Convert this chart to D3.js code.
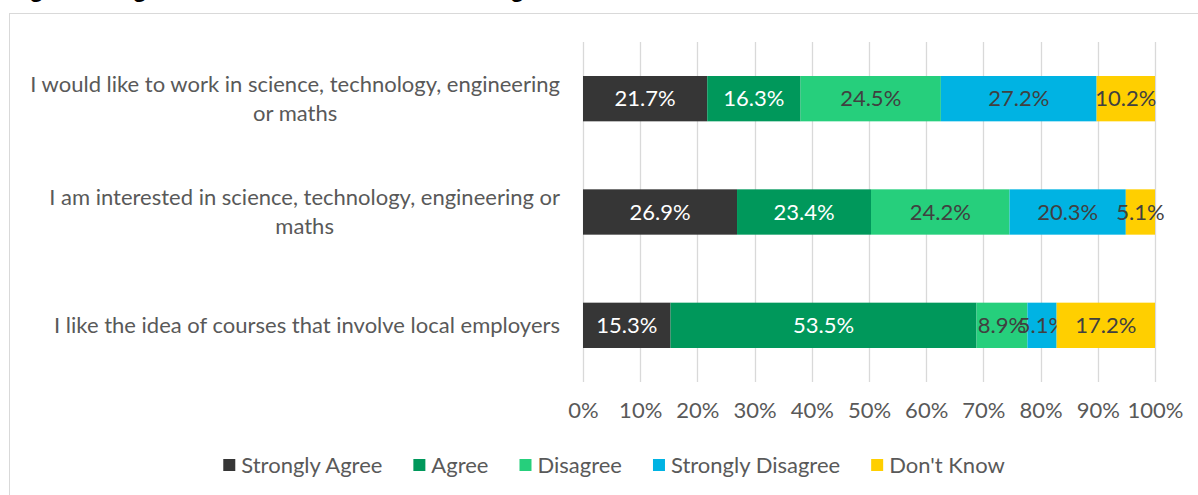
<!DOCTYPE html>
<html>
<head>
<meta charset="utf-8">
<script src="https://cdn.jsdelivr.net/npm/d3@7"></script>
<style>
  body { margin: 0; background: #fff; }
  svg { display: block; }
  svg text { font-family: Lato, "Open Sans", sans-serif; }
</style>
</head>
<body>
<div id="chart"></div>
<script>
// statements, top to bottom
const categories = [
  ["I would like to work in science, technology, engineering", "or maths"],
  ["I am interested in science, technology, engineering or", "maths"],
  ["I like the idea of courses that involve local employers"]
];
const seriesNames = ["Strongly Agree", "Agree", "Disagree", "Strongly Disagree", "Don't Know"];
const seriesColors = ["#363636", "#00985b", "#26cf7c", "#00b3e3", "#ffcf00"];
const labelColors = ["#ffffff", "#ffffff", "#404040", "#404040", "#404040"];

const stronglyAgree = [21.7, 26.9, 15.3];
const agree = [16.3, 23.4, 53.5];
const disagree = [24.5, 24.2, 8.9];
const stronglyDisagree = [27.2, 20.3, 5.1];
const dontKnow = [10.2, 5.1, 17.2];
const xTicks = [0, 0.1, 0.2, 0.3, 0.4, 0.5, 0.6, 0.7, 0.8, 0.9, 1];

const titleText = "Figure 4: Agreement with Statements relating to STEM courses";

const W = 1198, H = 495;
const FS = "22px";

const svg = d3.select("#chart").append("svg")
  .attr("width", W)
  .attr("height", H);

// title sits mostly above the crop, only the bottoms show
svg.append("text")
  .attr("x", 8)
  .attr("y", -3)
  .style("font-family", "'Liberation Sans', Arial, sans-serif")
  .style("font-weight", "bold")
  .style("font-size", "24px")
  .attr("fill", "#000")
  .text(titleText);

// chart area border
svg.append("rect")
  .attr("x", 9.5).attr("y", 13.5)
  .attr("width", 1400).attr("height", 600)
  .attr("fill", "#fff")
  .attr("stroke", "#d9d9d9");

const rows = categories.map((c, i) => ({
  key: i,
  "Strongly Agree": stronglyAgree[i],
  "Agree": agree[i],
  "Disagree": disagree[i],
  "Strongly Disagree": stronglyDisagree[i],
  "Don't Know": dontKnow[i]
}));

const stacked = d3.stack()
  .keys(seriesNames)
  .offset(d3.stackOffsetExpand)(rows);

const x = d3.scaleLinear().domain([0, 1]).range([583, 1155]);
const y = d3.scaleBand()
  .domain(rows.map(d => d.key))
  .range([42, 382])
  .paddingInner(0.6)
  .paddingOuter(0.3);

// gridlines
svg.append("g")
  .selectAll("line")
  .data(xTicks)
  .join("line")
  .attr("x1", d => Math.round(x(d)) + 0.5)
  .attr("x2", d => Math.round(x(d)) + 0.5)
  .attr("y1", 42)
  .attr("y2", 382)
  .attr("stroke", "#d9d9d9")
  .attr("stroke-width", 1.3);

// x axis labels
const xAxis = d3.axisBottom(x)
  .tickValues(xTicks)
  .tickFormat(d3.format(".0%"))
  .tickSize(0)
  .tickPadding(0);

const xAxisG = svg.append("g")
  .attr("transform", "translate(0,402)")
  .call(xAxis);
xAxisG.select(".domain").remove();
xAxisG.selectAll("text")
  .style("font-family", "Lato, sans-serif")
  .style("font-size", FS)
  .attr("fill", "#595959");

// bars
const layer = svg.append("g")
  .selectAll("g")
  .data(stacked)
  .join("g")
  .attr("fill", (d, i) => seriesColors[i]);

layer.selectAll("rect")
  .data(d => d)
  .join("rect")
  .attr("x", d => x(d[0]))
  .attr("y", d => y(d.data.key))
  .attr("width", d => x(d[1]) - x(d[0]))
  .attr("height", y.bandwidth());

// data labels
layer.each(function(s, i) {
  d3.select(this).selectAll("text")
    .data(s)
    .join("text")
    .attr("x", d => (x(d[0]) + x(d[1])) / 2)
    .attr("y", d => y(d.data.key) + y.bandwidth() / 2)
    .attr("dy", "0.35em")
    .attr("text-anchor", "middle")
    .style("font-size", FS)
    .attr("fill", labelColors[i])
    .text(d => d.data[s.key].toFixed(1) + "%");
});

// category labels, wrapped lines centred on the widest line
const catG = svg.append("g");
categories.forEach((lines, i) => {
  const g = catG.append("g");
  const cy = y(i) + y.bandwidth() / 2;
  const lh = 29;
  const texts = lines.map((t, j) => g.append("text")
    .attr("y", cy + (j - (lines.length - 1) / 2) * lh)
    .attr("dy", "0.35em")
    .attr("text-anchor", "middle")
    .style("font-size", FS)
    .attr("fill", "#595959")
    .text(t));
  const maxW = d3.max(texts, t => t.node().getComputedTextLength());
  texts.forEach(t => t.attr("x", 560 - maxW / 2));
});

// legend
const legend = svg.append("g");
let lx = 0;
seriesNames.forEach((name, i) => {
  const item = legend.append("g").attr("transform", `translate(${lx},0)`);
  item.append("rect")
    .attr("x", 0).attr("y", -6)
    .attr("width", 12).attr("height", 12)
    .attr("fill", seriesColors[i]);
  const t = item.append("text")
    .attr("x", 18)
    .attr("dy", "0.35em")
    .style("font-size", FS)
    .attr("fill", "#595959")
    .text(name);
  lx += 18 + t.node().getComputedTextLength() + 31;
});
const legendW = lx - 31;
legend.attr("transform", `translate(${614 - legendW / 2},465)`);
</script>
</body>
</html>
